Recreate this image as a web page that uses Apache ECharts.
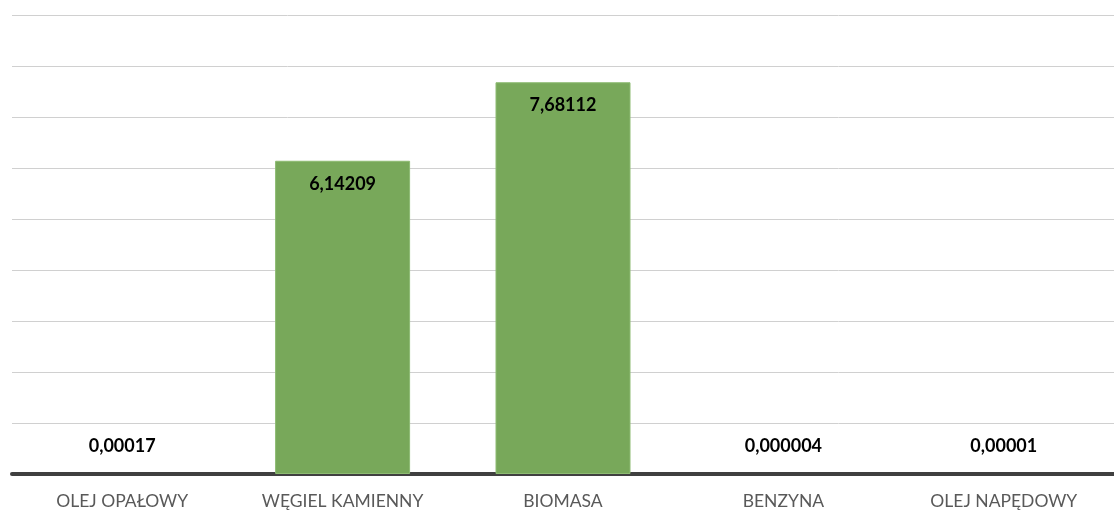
<!DOCTYPE html>
<html>
<head>
<meta charset="utf-8">
<script src="https://cdn.jsdelivr.net/npm/echarts@6/dist/echarts.min.js"></script>
<style>
  html, body { margin: 0; padding: 0; background: #ffffff; }
  #chart { width: 1114px; height: 512px; }
</style>
</head>
<body>
<div id="chart"></div>
<script>
// Fuel categories and their values
const categories = ['OLEJ OPAŁOWY', 'WĘGIEL KAMIENNY', 'BIOMASA', 'BENZYNA', 'OLEJ NAPĘDOWY'];
const values = [0.00017, 6.14209, 7.68112, 0.000004, 0.00001];
const valueLabels = ['0,00017', '6,14209', '7,68112', '0,000004', '0,00001'];

const chart = echarts.init(document.getElementById('chart'), null, { renderer: 'canvas' });

// Tall bars carry their label inside the top; near-zero bars show it above the axis
const seriesData = values.map((v, i) => {
  const tall = v > 1;
  return {
    value: v,
    itemStyle: tall ? {} : { borderWidth: 0 },
    label: {
      position: tall ? 'insideTop' : 'top',
      distance: tall ? 14 : 19,
      formatter: () => valueLabels[i]
    }
  };
});

chart.setOption({
  animation: false,
  grid: { left: 12, top: 15, width: 1114, bottom: 38, containLabel: false },
  xAxis: {
    type: 'category',
    data: categories,
    axisLine: { show: true, lineStyle: { color: '#404040', width: 4 } },
    axisTick: { show: false },
    axisLabel: {
      color: '#595959',
      fontFamily: 'Lato, "Open Sans", sans-serif',
      fontSize: 17.5,
      margin: 18
    }
  },
  yAxis: {
    type: 'value',
    min: 0,
    max: 9,
    interval: 1,
    axisLine: { show: false },
    axisTick: { show: false },
    axisLabel: { show: false },
    splitLine: { lineStyle: { color: '#d0d0d0', width: 1 } }
  },
  series: [{
    type: 'bar',
    data: seriesData,
    barWidth: 135,
    itemStyle: { color: '#78a85a', borderColor: '#8dbb72', borderWidth: 1 },
    label: {
      show: true,
      color: '#000000',
      fontWeight: 'bold',
      fontFamily: 'Lato, "Open Sans", sans-serif',
      fontSize: 18
    }
  }]
});
</script>
</body>
</html>
